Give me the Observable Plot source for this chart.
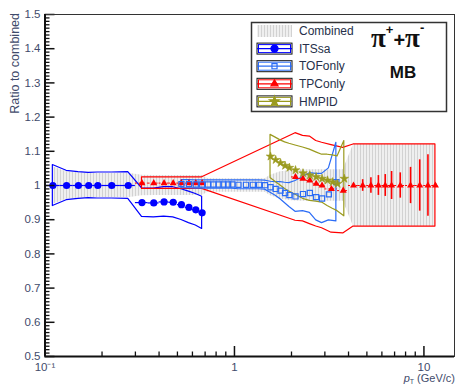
<!DOCTYPE html>
<html>
<head>
<meta charset="utf-8">
<script src="https://cdn.jsdelivr.net/npm/d3@7"></script>
<script src="https://cdn.jsdelivr.net/npm/@observablehq/plot@0.6"></script>
<style>
  html, body { margin: 0; padding: 0; background: #fff; }
  #chart { width: 456px; height: 387px; }
</style>
</head>
<body>
<div id="chart"></div>
<script>
// Ratio of each PID method to the combined pi+ + pi- spectrum (MB)

// Axis domains and tick labels
const xDomain = [0.1, 14.5];
const yDomain = [0.5, 1.5];
const yMajorTicks  = [0.5, 0.6, 0.7, 0.8, 0.9, 1.0, 1.1, 1.2, 1.3, 1.4, 1.5];
const yMajorLabels = ["0.5", "0.6", "0.7", "0.8", "0.9", "1", "1.1", "1.2", "1.3", "1.4", "1.5"];
const xMajorTicks  = [0.1, 1, 10];
const xMajorLabels = ["10\u207B\u00B9", "1", "10"];
const xMinorTicks  = [0.2, 0.3, 0.4, 0.5, 0.6, 0.7, 0.8, 0.9, 2, 3, 4, 5, 6, 7, 8, 9];

// Combined spectrum: systematic half-width around 1
const combPt = [0.11, 0.13, 0.15, 0.17, 0.19, 0.225, 0.275,
  0.325, 0.375, 0.425, 0.475, 0.525, 0.575, 0.625, 0.675,
  0.725, 0.775, 0.825, 0.875, 0.925, 0.975, 1.05, 1.15, 1.25, 1.35, 1.45,
  1.55, 1.65, 1.75, 1.85, 1.95, 2.1, 2.3, 2.5, 2.7, 2.9, 3.25, 3.75,
  4.25, 4.75, 5.25, 5.75, 6.25, 6.75, 7.5, 8.5, 9.5, 10.5, 11.5];
const combSyst = [0.055, 0.04, 0.037, 0.035, 0.035, 0.035, 0.036,
  0.03, 0.029, 0.029, 0.029, 0.029, 0.029, 0.029, 0.029,
  0.02, 0.02, 0.02, 0.02, 0.02, 0.02, 0.02, 0.02, 0.02, 0.02, 0.02,
  0.03, 0.035, 0.04, 0.042, 0.044, 0.045, 0.046, 0.046, 0.046, 0.046, 0.046, 0.046,
  0.12, 0.12, 0.12, 0.12, 0.12, 0.12, 0.12, 0.12, 0.12, 0.12, 0.12];

// ITSsa
const itsPt    = [0.11, 0.13, 0.15, 0.17, 0.19, 0.225, 0.275, 0.325, 0.375, 0.425, 0.475, 0.525, 0.575, 0.625, 0.675];
const itsBinLo = [0.10, 0.12, 0.14, 0.16, 0.18, 0.20, 0.25, 0.30, 0.35, 0.40, 0.45, 0.50, 0.55, 0.60, 0.65];
const itsBinHi = [0.12, 0.14, 0.16, 0.18, 0.20, 0.25, 0.30, 0.35, 0.40, 0.45, 0.50, 0.55, 0.60, 0.65, 0.70];
const itsRatio = [1.0, 1.0, 1.0, 1.0, 1.0, 1.0, 1.0, 0.950, 0.949, 0.952, 0.951, 0.944, 0.936, 0.929, 0.920];
const itsSyst  = [0.060, 0.043, 0.039, 0.037, 0.038, 0.038, 0.039, 0.042, 0.042, 0.043, 0.044, 0.045, 0.046, 0.046, 0.047];

// TOFonly
const tofPt = [0.525, 0.575, 0.625, 0.675, 0.725, 0.775, 0.825, 0.875, 0.925, 0.975,
  1.05, 1.15, 1.25, 1.35, 1.45, 1.55, 1.65, 1.75, 1.85, 1.95,
  2.1, 2.3, 2.5, 2.7, 2.9, 3.15, 3.45];
const tofRatio = [1.004, 1.004, 1.003, 1.003, 1.003, 1.003, 1.003, 1.003, 1.003, 1.003,
  1.002, 1.002, 1.002, 1.002, 1.001, 0.995, 0.99, 0.985, 0.978, 0.972,
  0.968, 0.975, 0.978, 0.966, 0.962, 0.974, 1.01];
const tofSyst = [0.012, 0.012, 0.012, 0.012, 0.012, 0.012, 0.012, 0.012, 0.012, 0.012,
  0.013, 0.013, 0.013, 0.013, 0.013, 0.016, 0.02, 0.025, 0.03, 0.035,
  0.045, 0.05, 0.058, 0.068, 0.072, 0.076, 0.115];

// TPConly
const tpcPt = [0.325, 0.375, 0.425, 0.475, 0.525, 0.575, 0.625, 0.675,
  2.1, 2.3, 2.5, 2.7, 2.9, 3.25, 3.75,
  4.25, 4.75, 5.25, 5.75, 6.25, 6.75, 7.5, 8.5, 9.5, 10.5, 11.5];
const tpcBinLo = [0.30, 0.35, 0.40, 0.45, 0.50, 0.55, 0.60, 0.65,
  2.0, 2.2, 2.4, 2.6, 2.8, 3.0, 3.5,
  4.0, 4.5, 5.0, 5.5, 6.0, 6.5, 7.0, 8.0, 9.0, 10.0, 11.0];
const tpcBinHi = [0.35, 0.40, 0.45, 0.50, 0.55, 0.60, 0.65, 0.70,
  2.2, 2.4, 2.6, 2.8, 3.0, 3.5, 4.0,
  4.5, 5.0, 5.5, 6.0, 6.5, 7.0, 8.0, 9.0, 10.0, 11.0, 12.0];
const tpcRatio = [1.007, 1.007, 1.007, 1.007, 1.007, 1.007, 1.007, 1.007,
  1.025, 1.02, 1.015, 1.005, 1.0, 0.99, 0.985,
  1.0, 1.0, 1.0, 1.0, 1.0, 1.0, 1.0, 1.0, 1.0, 1.0, 1.0];
const tpcSyst = [0.017, 0.017, 0.017, 0.017, 0.017, 0.017, 0.017, 0.017,
  0.128, 0.125, 0.128, 0.125, 0.125, 0.128, 0.125,
  0.12, 0.12, 0.12, 0.12, 0.12, 0.12, 0.12, 0.12, 0.12, 0.12, 0.12];
const tpcStat = [0.002, 0.002, 0.002, 0.002, 0.002, 0.002, 0.002, 0.002,
  0.004, 0.004, 0.004, 0.004, 0.004, 0.004, 0.004,
  0.004, 0.017, 0.023, 0.029, 0.032, 0.041, 0.037, 0.053, 0.075, 0.09, 0.006];

// HMPID
const hmpPt    = [1.55, 1.65, 1.75, 1.85, 1.95, 2.1, 2.3, 2.5, 2.7, 2.9, 3.1, 3.3, 3.5, 3.8];
const hmpRatio = [1.085, 1.075, 1.066, 1.058, 1.052, 1.045, 1.036, 1.03, 1.025, 1.02, 1.015, 1.01, 1.005, 1.02];
const hmpSyst  = [0.063, 0.065, 0.066, 0.068, 0.07, 0.072, 0.075, 0.075, 0.072, 0.07, 0.075, 0.078, 0.08, 0.11];

// Colours
const cITS = "#0000ff", cTOF = "#2b6cf6", cTPC = "#ff0000", cHMP = "#9a9a1e";
const inkText = "#3f4b6b";

// Rows for the library
const comb = combPt.map((pt, i) => ({pt, lo: 1 - combSyst[i], hi: 1 + combSyst[i]}));
const its = itsPt.map((pt, i) => ({pt, r: itsRatio[i], s: itsSyst[i], x1: itsBinLo[i], x2: itsBinHi[i]}));
const tof = tofPt.map((pt, i) => ({pt, r: tofRatio[i], s: tofSyst[i]}));
const tpc = tpcPt.map((pt, i) => ({pt, r: tpcRatio[i], s: tpcSyst[i], e: tpcStat[i], x1: tpcBinLo[i], x2: tpcBinHi[i]}));
const hmp = hmpPt.map((pt, i) => ({pt, r: hmpRatio[i], s: hmpSyst[i]}));

const yMinorTicks = d3.range(50, 151).filter(i => i % 10 !== 0).map(i => i / 100);

const band = (data, color) => Plot.areaY(data, {
  x: "pt", y1: d => d.r - d.s, y2: d => d.r + d.s,
  fill: "none", stroke: color, strokeWidth: 1.2
});

const plot = Plot.plot({
  width: 456,
  height: 387,
  marginLeft: 44.5,
  marginRight: 2,
  marginTop: 14,
  marginBottom: 31,
  x: {type: "log", domain: xDomain},
  y: {domain: yDomain},
  style: {fontFamily: "'Liberation Sans', Arial, sans-serif", fontSize: "11.5px", color: inkText, background: "white", overflow: "visible"},
  marks: [
    // combined systematic band
    Plot.areaY(comb, {x: "pt", y1: "lo", y2: "hi", fill: "url(#combHatch)"}),
    // per-method systematic bands
    band(its, cITS),
    band(tpc, cTPC),
    band(tof, cTOF),
    band(hmp, cHMP),
    // ITSsa
    Plot.ruleY(its, {y: "r", x1: "x1", x2: "x2", stroke: cITS, strokeWidth: 1.2}),
    Plot.dot(its, {x: "pt", y: "r", r: 3.6, fill: cITS}),
    // TPConly
    Plot.ruleY(tpc, {y: "r", x1: "x1", x2: "x2", stroke: cTPC, strokeWidth: 1, strokeDasharray: "2,2"}),
    Plot.ruleX(tpc, {x: "pt", y1: d => d.r - d.e, y2: d => d.r + d.e, stroke: cTPC, strokeWidth: 1.6}),
    Plot.dot(tpc, {x: "pt", y: "r", symbol: "triangle", r: 2.6, fill: cTPC}),
    // TOFonly
    Plot.dot(tof, {x: "pt", y: "r", symbol: "square", r: 2.9, fill: "none", stroke: cTOF, strokeWidth: 1.2}),
    // HMPID
    Plot.dot(hmp, {x: "pt", y: "r", symbol: "star", r: 2.7, fill: cHMP, stroke: cHMP, strokeWidth: 0.6}),
    // axes (ticks drawn inside the frame)
    Plot.axisY({ticks: yMinorTicks, tickSize: -5, tickFormat: () => "", stroke: "#111", strokeWidth: 1.3, label: null}),
    Plot.axisY({ticks: yMajorTicks, tickSize: -10, tickPadding: 14.5, stroke: "#111", strokeWidth: 1.5, fill: inkText,
      tickFormat: d => yMajorLabels[yMajorTicks.indexOf(d)], label: null}),
    Plot.axisX({ticks: xMinorTicks, tickSize: -4.5, tickFormat: () => "", stroke: "#111", strokeWidth: 1.3, label: null}),
    Plot.axisX({ticks: xMajorTicks, tickSize: -10, tickPadding: 16, stroke: "#111", strokeWidth: 1.5, fill: inkText,
      tickFormat: d => xMajorLabels[xMajorTicks.indexOf(d)], label: null}),
    Plot.frame({stroke: "#333", strokeWidth: 1}),
    Plot.ruleX([xDomain[0]], {stroke: "#111", strokeWidth: 2}),
    Plot.ruleY([yDomain[0]], {stroke: "#111", strokeWidth: 2})
  ]
});

const svg = d3.select(plot);

// hatch used for the combined band
const defs = svg.insert("defs", ":first-child");
const pat = defs.append("pattern").attr("id", "combHatch")
  .attr("patternUnits", "userSpaceOnUse").attr("width", 3).attr("height", 3);
pat.append("rect").attr("width", 3).attr("height", 3).attr("fill", "#efefef");
pat.append("rect").attr("width", 1).attr("height", 3).attr("fill", "#d2d2d2");

// axis titles
svg.append("text")
  .attr("transform", "translate(19,13) rotate(-90)")
  .attr("text-anchor", "end")
  .attr("font-size", 12.5)
  .attr("fill", inkText)
  .text("Ratio to combined");

const xt = svg.append("text")
  .attr("x", 455).attr("y", 382)
  .attr("text-anchor", "end")
  .attr("font-size", 11)
  .attr("fill", inkText);
xt.append("tspan").attr("font-style", "italic").text("p");
xt.append("tspan").attr("font-size", 7).attr("dy", 2).text("T");
xt.append("tspan").attr("dy", -2).text(" (GeV/c)");

// legend
const lg = svg.append("g")
  .attr("font-family", "'Liberation Sans', Arial, sans-serif")
  .attr("text-anchor", "start");
lg.append("rect").attr("x", 251.5).attr("y", 22.5).attr("width", 195).attr("height", 89)
  .attr("fill", "white").attr("stroke", "#333").attr("stroke-width", 1.5);

const entries = [
  {label: "Combined", kind: "hatch"},
  {label: "ITSsa", color: cITS, sym: d3.symbolCircle, size: 40, fill: cITS},
  {label: "TOFonly", color: cTOF, sym: d3.symbolSquare, size: 26, fill: "none"},
  {label: "TPConly", color: cTPC, sym: d3.symbolTriangle, size: 22, fill: cTPC},
  {label: "HMPID", color: cHMP, sym: d3.symbolStar, size: 30, fill: cHMP}
];
entries.forEach((e, i) => {
  const cy = 31 + i * 17.6;
  if (e.kind === "hatch") {
    lg.append("rect").attr("x", 257).attr("y", cy - 6).attr("width", 35).attr("height", 12)
      .attr("fill", "url(#combHatch)");
  } else {
    lg.append("rect").attr("x", 257).attr("y", cy - 5.5).attr("width", 35).attr("height", 11)
      .attr("fill", "white").attr("stroke", "#111").attr("stroke-width", 1);
    lg.append("rect").attr("x", 258.5).attr("y", cy - 4).attr("width", 32).attr("height", 8)
      .attr("fill", "none").attr("stroke", e.color).attr("stroke-width", 1);
    lg.append("line").attr("x1", 257).attr("x2", 292).attr("y1", cy).attr("y2", cy)
      .attr("stroke", e.color).attr("stroke-width", 1.2);
    lg.append("path").attr("transform", `translate(274.5,${cy})`)
      .attr("d", d3.symbol().type(e.sym).size(e.size)())
      .attr("fill", e.fill).attr("stroke", e.color).attr("stroke-width", 1.2);
  }
  lg.append("text").attr("x", 299).attr("y", cy).attr("dy", "0.35em")
    .attr("font-size", 12).attr("fill", "#26304a").text(e.label);
});

// particle and centrality labels
const pi = lg.append("text").attr("x", 371).attr("y", 47)
  .attr("font-weight", "bold").attr("fill", "#111");
pi.append("tspan").attr("font-family", "'Liberation Serif', 'DejaVu Serif', serif").attr("font-size", 27).text("\u03C0");
pi.append("tspan").attr("font-size", 13).attr("dy", -13).text("+");
pi.append("tspan").attr("font-size", 20).attr("dy", 13).text("+");
pi.append("tspan").attr("font-family", "'Liberation Serif', 'DejaVu Serif', serif").attr("font-size", 27).text("\u03C0");
pi.append("tspan").attr("font-size", 13).attr("dy", -15).text("-");
lg.append("text").attr("x", 403).attr("y", 78).attr("text-anchor", "middle")
  .attr("font-weight", "bold").attr("font-size", 17).attr("fill", "#111").text("MB");

document.getElementById("chart").appendChild(plot);
</script>
</body>
</html>
